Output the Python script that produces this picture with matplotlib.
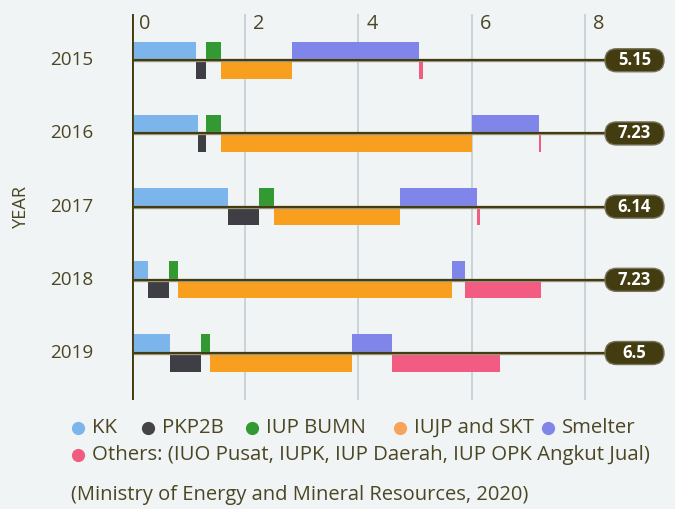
import matplotlib
matplotlib.use("Agg")
import matplotlib.pyplot as plt
from matplotlib.lines import Line2D
from matplotlib.patches import FancyBboxPatch
import matplotlib.transforms as mtrans

FONT = ['Open Sans', 'DejaVu Sans']
plt.rcParams['font.family'] = FONT

years = ["2015", "2016", "2017", "2018", "2019"]
series = ["KK", "PKP2B", "IUP BUMN", "IUJP and SKT", "Smelter",
          "Others: (IUO Pusat, IUPK, IUP Daerah, IUP OPK Angkut Jual)"]
kk       = [1.13, 1.18, 1.70, 0.29, 0.68]
pkp2b    = [0.18, 0.13, 0.55, 0.37, 0.55]
iup_bumn = [0.27, 0.27, 0.26, 0.16, 0.16]
iujp_skt = [1.26, 4.43, 2.23, 4.83, 2.50]
smelter  = [2.23, 1.17, 1.36, 0.24, 0.71]
others   = [0.08, 0.05, 0.04, 1.34, 1.90]
totals   = ["5.15", "7.23", "6.14", "7.23", "6.5"]
x_ticks  = [0, 2, 4, 6, 8]
source   = "(Ministry of Energy and Mineral Resources, 2020)"

bar_colors = ["#7cb5ec", "#3f3e44", "#339933", "#f99f1f", "#8085e9", "#f25c82"]
legend_colors = ["#7cb5ec", "#434348", "#339933", "#f7a35c", "#8085e9", "#f15c80"]
text_color = "#4b4624"
dark = "#433c10"
halo = "#9a977f"
bg = "#f0f4f5"

W, H = 675, 509
fig = plt.figure(figsize=(W / 100, H / 100), dpi=100, facecolor=bg)
renderer = fig.canvas.get_renderer()


def fit_size(text, target_px, base=12, **kw):
    t = fig.text(0, 0, text, fontsize=base, **kw)
    w = t.get_window_extent(renderer=renderer).width
    t.remove()
    return base * target_px / w


ax_l, ax_r, ax_t, ax_b = 131.5, 636, 14, 400
ax = fig.add_axes([ax_l / W, 1 - ax_b / H, (ax_r - ax_l) / W, (ax_b - ax_t) / H])
ax.set_facecolor(bg)
ax.set_xlim(0, 8.9)
ax.set_ylim(4.642, -0.632)

year_fs = fit_size("2015", 43)
tick_fs = fit_size("0", 11.5)
pill_fs = fit_size("5.15", 33, fontweight='bold')
leg_fs = fit_size(series[5], 558)
src_fs = fit_size(source, 456)
yr_lab_fs = fit_size("YEAR", 43)

h = 0.253
data = [kk, pkp2b, iup_bumn, iujp_skt, smelter, others]
year_tr = ax.get_yaxis_transform() + mtrans.ScaledTranslation(-38 / 100, 0, fig.dpi_scale_trans)
for i, yr in enumerate(years):
    left = 0.0
    for s, vals in enumerate(data):
        v = vals[i]
        yc = i - h / 2 if s % 2 == 0 else i + h / 2
        ax.barh(yc, v, left=left, height=h, color=bar_colors[s], zorder=3, linewidth=0)
        left += v
    ax.plot([0, 8.9], [i, i], color=halo, lw=2.4, zorder=4, solid_capstyle='butt')
    ax.plot([0, 8.9], [i, i], color=dark, lw=1.5, zorder=5, solid_capstyle='butt')
    ax.text(0, i, yr, transform=year_tr, ha='right', va='center',
            fontsize=year_fs, color=text_color)

# pills (drawn in pixel coordinates)
for i in range(len(years)):
    _, py = ax.transData.transform((0, i))
    pw, ph = 59, 23
    cx = 634.5
    fig.add_artist(FancyBboxPatch((cx - pw / 2, py - ph / 2), pw, ph,
                                  boxstyle="round,pad=0,rounding_size=11.5",
                                  fc=dark, ec="#77735a", lw=1.0, transform=None, zorder=10))
    fig.text(cx / W, py / H, totals[i], ha='center', va='center', color='white',
             fontsize=pill_fs, fontweight='bold', zorder=11)

for v in x_ticks:
    if v > 0:
        ax.axvline(v, color="#c8d3da", lw=1.4, zorder=1)
    ax.annotate(str(v), xy=(v, 1.0), xycoords=('data', 'axes fraction'),
                xytext=(8, 0), textcoords='offset pixels', ha='left', va='top',
                fontsize=tick_fs, color=text_color)

ax.axvline(0, color=halo, lw=2.8, zorder=6)
ax.axvline(0, color=dark, lw=2.0, zorder=7)

for sp in ax.spines.values():
    sp.set_visible(False)
ax.set_xticks([])
ax.set_yticks([])

fig.text(21 / W, 1 - 207 / H, "YEAR", rotation=90, ha='center', va='center',
         fontsize=yr_lab_fs, color=text_color)

# legend
row1_y = 428
row2_y = 455
items = [(78, row1_y), (148, row1_y), (252, row1_y), (400, row1_y), (548, row1_y), (78, row2_y)]
for (x, y), name, c in zip(items, series, legend_colors):
    fig.add_artist(Line2D([x / W], [1 - y / H], marker='o', markersize=9.5, color=c,
                          markeredgewidth=0, linestyle='none', transform=fig.transFigure))
    fig.text((x + 14) / W, 1 - y / H, name, ha='left', va='center',
             fontsize=leg_fs, color=text_color)

fig.text(71 / W, 1 - 495 / H, source, ha='left', va='center',
         fontsize=src_fs, color=text_color)

fig.savefig("out.png", dpi=100, facecolor=bg)
